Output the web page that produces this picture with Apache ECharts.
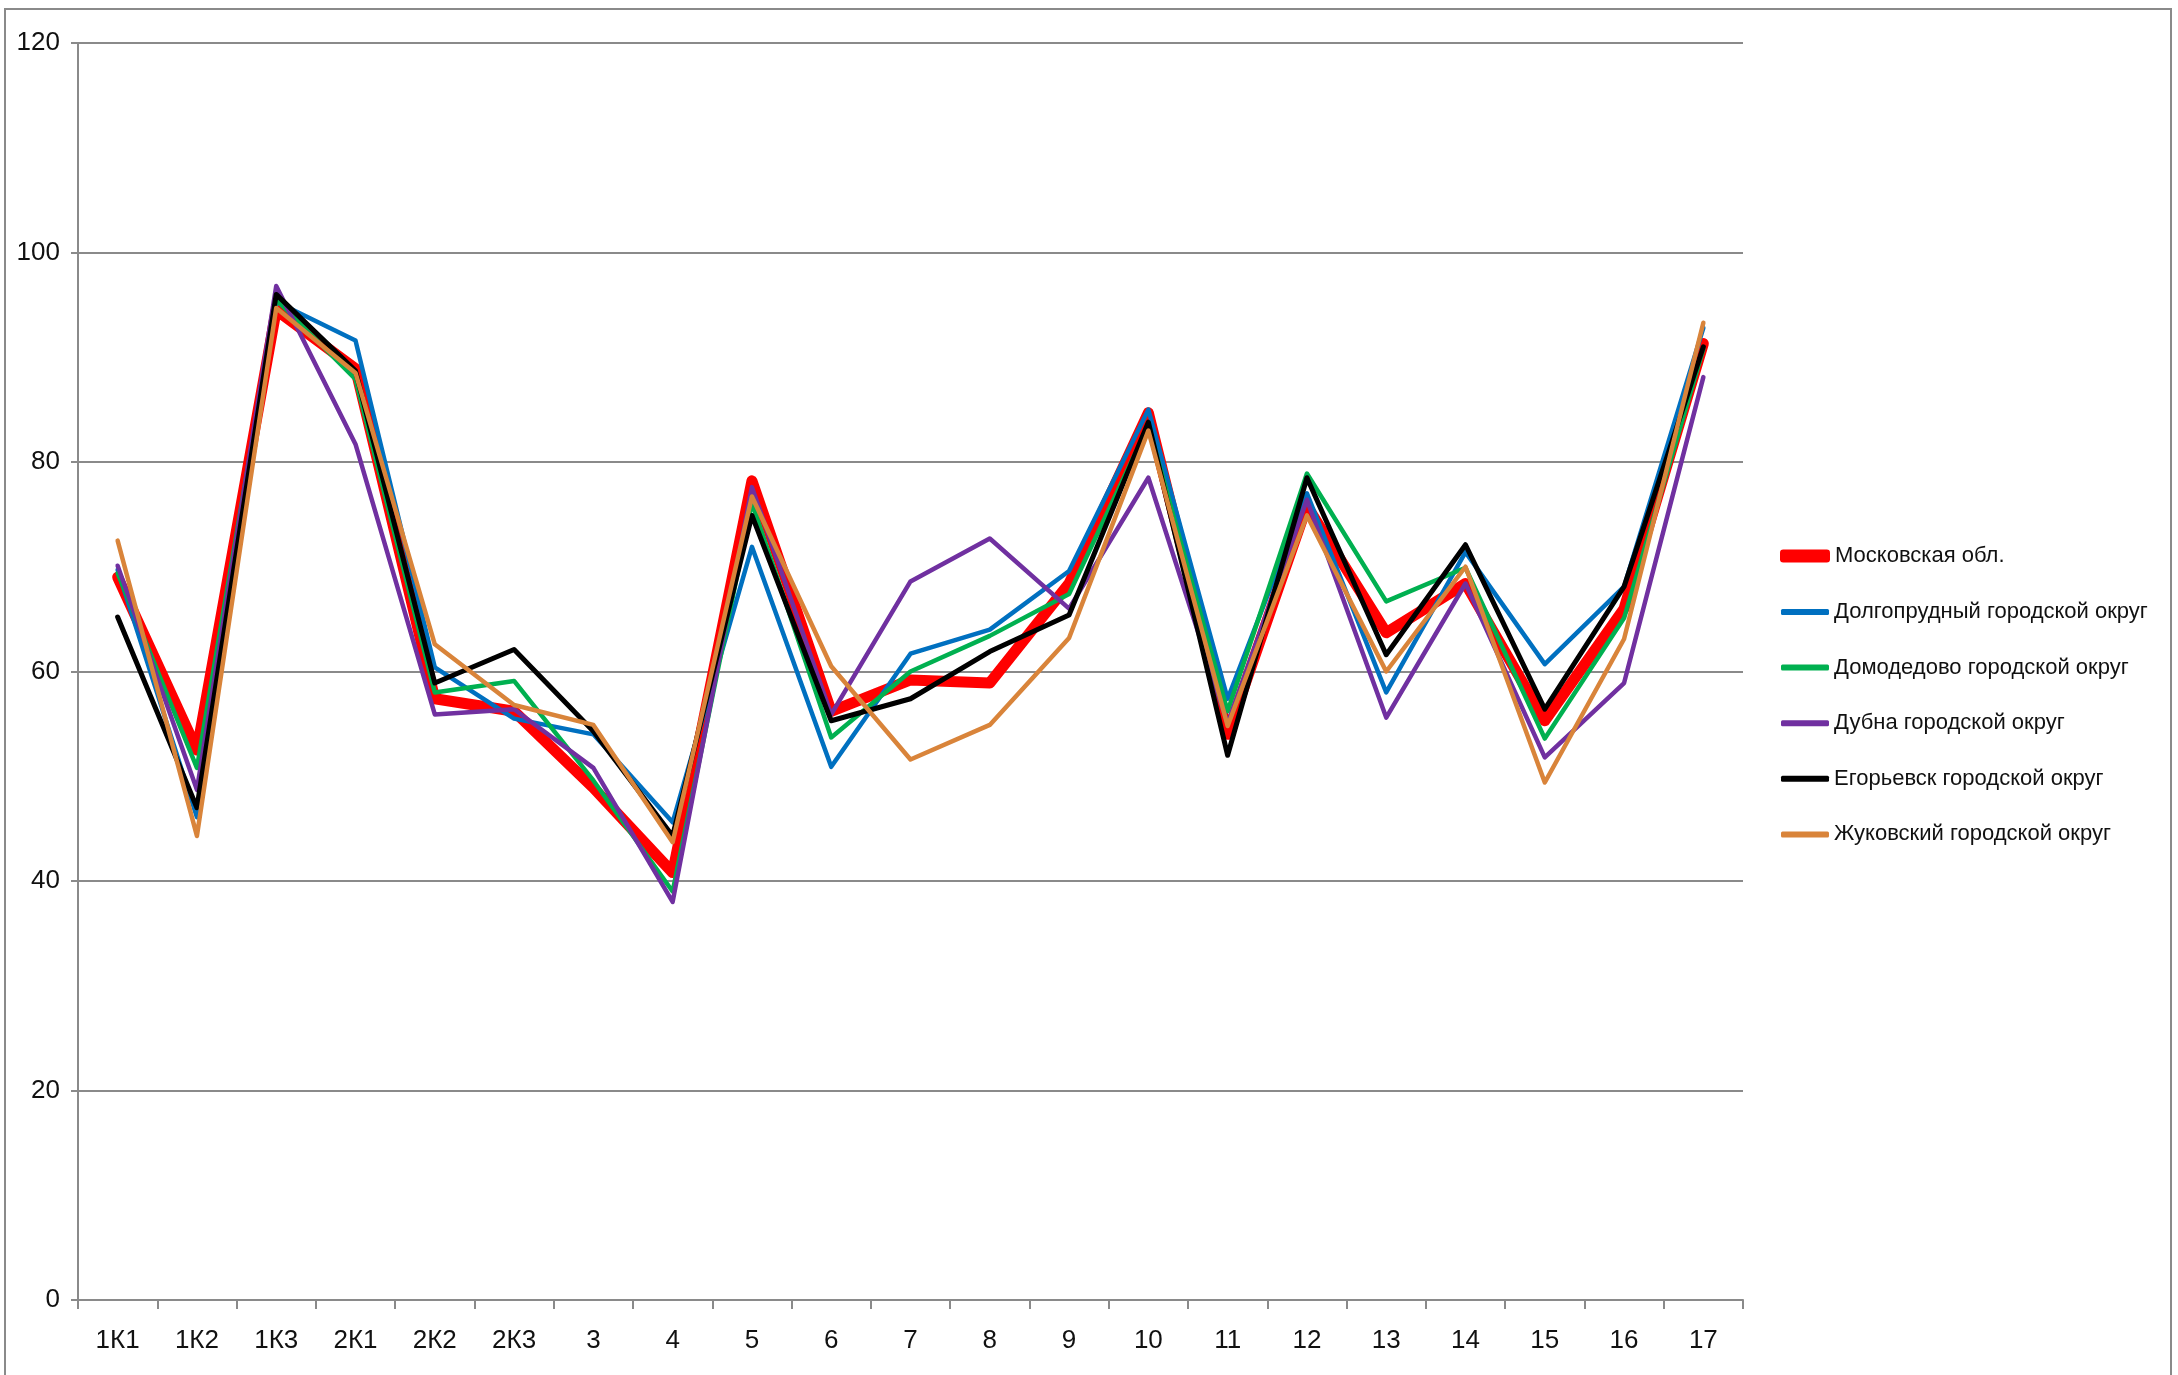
<!DOCTYPE html>
<html>
<head>
<meta charset="utf-8">
<script src="https://cdn.jsdelivr.net/npm/echarts@6/dist/echarts.min.js"></script>
<style>
html,body{margin:0;padding:0;background:#fff;}
#chart{width:2178px;height:1375px;}
</style>
</head>
<body>
<div id="chart"></div>
<script>
const categories = ['1К1','1К2','1К3','2К1','2К2','2К3','3','4','5','6','7','8','9','10','11','12','13','14','15','16','17'];
const yTicks = [0, 20, 40, 60, 80, 100, 120];

const moskovskaya   = [69.0, 52.5, 94.5, 88.9, 57.4, 56.2, 48.9, 40.8, 78.2, 56.2, 59.2, 58.9, 68.4, 84.7, 54.0, 75.8, 63.7, 68.4, 55.3, 66.0, 91.3];
const dolgoprudny   = [69.7, 46.1, 95.3, 91.6, 60.4, 55.5, 54.0, 45.6, 71.9, 50.9, 61.7, 64.0, 69.6, 85.0, 57.4, 77.0, 58.0, 71.4, 60.7, 68.1, 92.8];
const domodedovo    = [69.4, 50.8, 95.5, 87.9, 58.0, 59.1, 49.6, 39.0, 76.1, 53.7, 60.0, 63.4, 67.4, 83.5, 56.2, 78.9, 66.7, 69.9, 53.6, 65.1, 90.8];
const dubna         = [70.1, 48.7, 96.8, 81.7, 55.9, 56.4, 50.8, 38.0, 77.6, 55.9, 68.6, 72.7, 66.0, 78.5, 55.0, 76.4, 55.6, 68.4, 51.8, 58.9, 88.1];
const egoryevsk     = [65.2, 47.0, 96.0, 88.7, 58.9, 62.1, 54.3, 44.3, 74.9, 55.3, 57.4, 61.9, 65.4, 83.8, 52.0, 78.5, 61.6, 72.1, 56.4, 68.1, 91.0];
const zhukovsky     = [72.5, 44.3, 94.7, 88.5, 62.6, 56.8, 54.9, 43.7, 76.7, 60.5, 51.6, 54.9, 63.2, 83.0, 54.8, 74.9, 60.0, 70.0, 49.4, 63.1, 93.3];

const seriesNames = ['Московская обл.', 'Долгопрудный городской округ', 'Домодедово городской округ', 'Дубна городской округ', 'Егорьевск городской округ', 'Жуковский городской округ'];
const seriesData = [moskovskaya, dolgoprudny, domodedovo, dubna, egoryevsk, zhukovsky];
const seriesColors = ['#FF0000', '#0070C0', '#00B050', '#7030A0', '#000000', '#D9843A'];
const seriesWidths = [11, 4.5, 4.5, 4.5, 5, 4.5];

const FONT = '"Liberation Sans Narrow", "Liberation Sans", Arial, sans-serif';
const legendTextStyle = {fontFamily: FONT, fontSize: 22, color: '#111', lineHeight: 30};

const chart = echarts.init(document.getElementById('chart'), null, {renderer: 'canvas'});
chart.setOption({
  animation: false,
  backgroundColor: '#ffffff',
  graphic: [{
    type: 'rect',
    shape: {x: 5, y: 9, width: 2166, height: 1380},
    style: {fill: 'none', stroke: '#8a8a8a', lineWidth: 2},
    silent: true
  }],
  grid: {left: 78, right: 435, top: 43, bottom: 75, containLabel: false},
  legend: [{
    orient: 'vertical',
    left: 1775,
    top: 536,
    itemWidth: 50,
    itemHeight: 13,
    icon: 'roundRect',
    data: seriesNames.slice(0, 1),
    textStyle: legendTextStyle
  }, {
    orient: 'vertical',
    left: 1776,
    top: 592,
    itemWidth: 48,
    itemHeight: 6,
    itemGap: 25.6,
    icon: 'roundRect',
    data: seriesNames.slice(1),
    textStyle: legendTextStyle
  }],
  xAxis: {
    type: 'category',
    data: categories,
    boundaryGap: true,
    axisLine: {lineStyle: {color: '#8a8a8a', width: 2}},
    axisTick: {show: true, alignWithLabel: false, length: 9, lineStyle: {color: '#8a8a8a', width: 2}},
    axisLabel: {fontFamily: FONT, fontSize: 26, color: '#111', margin: 28},
    splitLine: {show: false}
  },
  yAxis: {
    type: 'value',
    min: yTicks[0],
    max: yTicks[yTicks.length - 1],
    interval: 20,
    axisLine: {show: true, lineStyle: {color: '#8a8a8a', width: 2}},
    axisTick: {show: true, length: 7, lineStyle: {color: '#8a8a8a', width: 2}},
    axisLabel: {fontFamily: FONT, fontSize: 26, color: '#111', margin: 18},
    splitLine: {show: true, lineStyle: {color: '#8a8a8a', width: 2}}
  },
  series: seriesNames.map((n, i) => ({
    name: n,
    type: 'line',
    data: seriesData[i],
    symbol: 'none',
    showSymbol: false,
    color: seriesColors[i],
    lineStyle: {color: seriesColors[i], width: seriesWidths[i], join: 'round', cap: 'round'},
    itemStyle: {color: seriesColors[i]},
    emphasis: {disabled: true},
    z: 2 + i
  }))
});
</script>
</body>
</html>
